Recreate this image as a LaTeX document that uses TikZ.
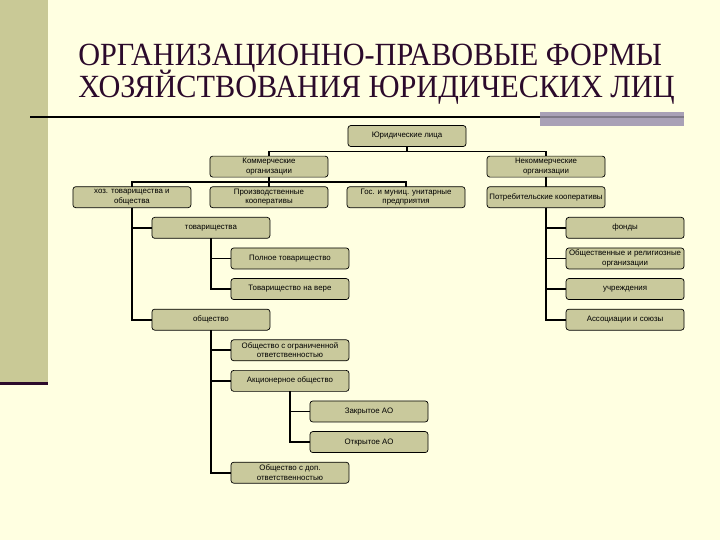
\documentclass[tikz,border=0pt]{standalone}
\usepackage{fontspec}
\setmainfont{Liberation Sans}
\newfontfamily\titlefont[FakeStretch=0.935]{Liberation Serif}
\usepackage{xcolor}
\usetikzlibrary{positioning}

\definecolor{slidebg}{HTML}{FFFFE1}
\definecolor{barfill}{HTML}{C9C996}
\definecolor{boxfill}{HTML}{C9C99C}
\definecolor{titlecol}{HTML}{2B0A2B}
\definecolor{rulegray}{HTML}{A9A1B6}

\begin{document}
\begin{tikzpicture}[
    x=0.025cm, y=-0.025cm,
    box/.style={draw, line width=0.5pt, fill=boxfill, rounded corners=2pt, minimum width=2.95cm, minimum height=0.525cm, inner sep=0.5pt, outer sep=0pt, align=center, font=\fontsize{5.6}{6.6}\selectfont},
    link/.style={line width=1.3pt},
    node distance=0.24cm
]
% slide background
\fill[slidebg] (0,0) rectangle (720,540);
\fill[barfill] (0,0) rectangle (48,382);
\fill[titlecol] (0,382) rectangle (48,385);
\fill[rulegray] (540,112) rectangle (684,126);
\draw[line width=2pt] (30,117) -- (540,117);
\draw[line width=2pt, rulegray!75!black] (540,117) -- (684,117);

% title
\node[anchor=base west, inner sep=0, text=titlecol, font=\titlefont\fontsize{23}{27}\selectfont] (titleA) at (78,65) {ОРГАНИЗАЦИОННО-ПРАВОВЫЕ ФОРМЫ};
\node[anchor=base west, inner sep=0, text=titlecol, font=\titlefont\fontsize{23}{27}\selectfont] (titleB) at (78,97) {ХОЗЯЙСТВОВАНИЯ ЮРИДИЧЕСКИХ ЛИЦ};

% tree
\node[box] (ul) at (407,136) {Юридические лица};
\node[box, below=of ul, xshift=-3.45cm] (kom) {Коммерческие\\организации};
\node[box, below=of ul, xshift=3.475cm] (nekom) {Некоммерческие\\организации};
\node[box, below=of kom] (proiz) {Производственные\\кооперативы};
\node[box, left=0.475cm of proiz] (hoz) {хоз. товарищества и\\общества};
\node[box, right=0.475cm of proiz] (gos) {Гос. и муниц. унитарные\\предприятия};
\node[box, below=of nekom] (potr) {Потребительские кооперативы};

\node[box, below=of hoz, xshift=1.975cm] (tov) {товарищества};
\node[box, below=of tov, xshift=1.975cm] (poln) {Полное товарищество};
\node[box, below=of poln] (vera) {Товарищество на вере};
\node[box, below=of vera, xshift=-1.975cm] (obsh) {общество};
\node[box, below=of obsh, xshift=1.975cm] (ooo) {Общество с ограниченной\\ответственностью};
\node[box, below=of ooo] (ao) {Акционерное общество};
\node[box, below=of ao, xshift=1.975cm] (zao) {Закрытое АО};
\node[box, below=of zao] (oao) {Открытое АО};
\node[box, below=of oao, xshift=-1.975cm] (odo) {Общество с доп.\\ответственностью};

\node[box, below=of potr, xshift=1.975cm] (fond) {фонды};
\node[box, below=of fond] (rel) {Общественные и религиозные\\организации};
\node[box, below=of rel] (uchr) {учреждения};
\node[box, below=of uchr] (assoc) {Ассоциации и союзы};

\draw[link] (ul.south) -- ++(0,5) -| (kom.north);
\draw[link] (ul.south) -- ++(0,5) -| (nekom.north);
\draw[link] (kom.south) -- ++(0,5) -| (hoz.north);
\draw[link] (kom.south) -- ++(0,5) -| (gos.north);
\draw[link] (kom) -- (proiz);
\draw[link] (nekom) -- (potr);

\draw[link] (hoz.south) |- (tov.west);
\draw[link] (hoz.south) |- (obsh.west);
\draw[link] (tov.south) |- (poln.west);
\draw[link] (tov.south) |- (vera.west);
\draw[link] (obsh.south) |- (ooo.west);
\draw[link] (obsh.south) |- (ao.west);
\draw[link] (obsh.south) |- (odo.west);
\draw[link] (ao.south) |- (zao.west);
\draw[link] (ao.south) |- (oao.west);

\draw[link] (potr.south) |- (fond.west);
\draw[link] (potr.south) |- (rel.west);
\draw[link] (potr.south) |- (uchr.west);
\draw[link] (potr.south) |- (assoc.west);
\end{tikzpicture}
\end{document}
